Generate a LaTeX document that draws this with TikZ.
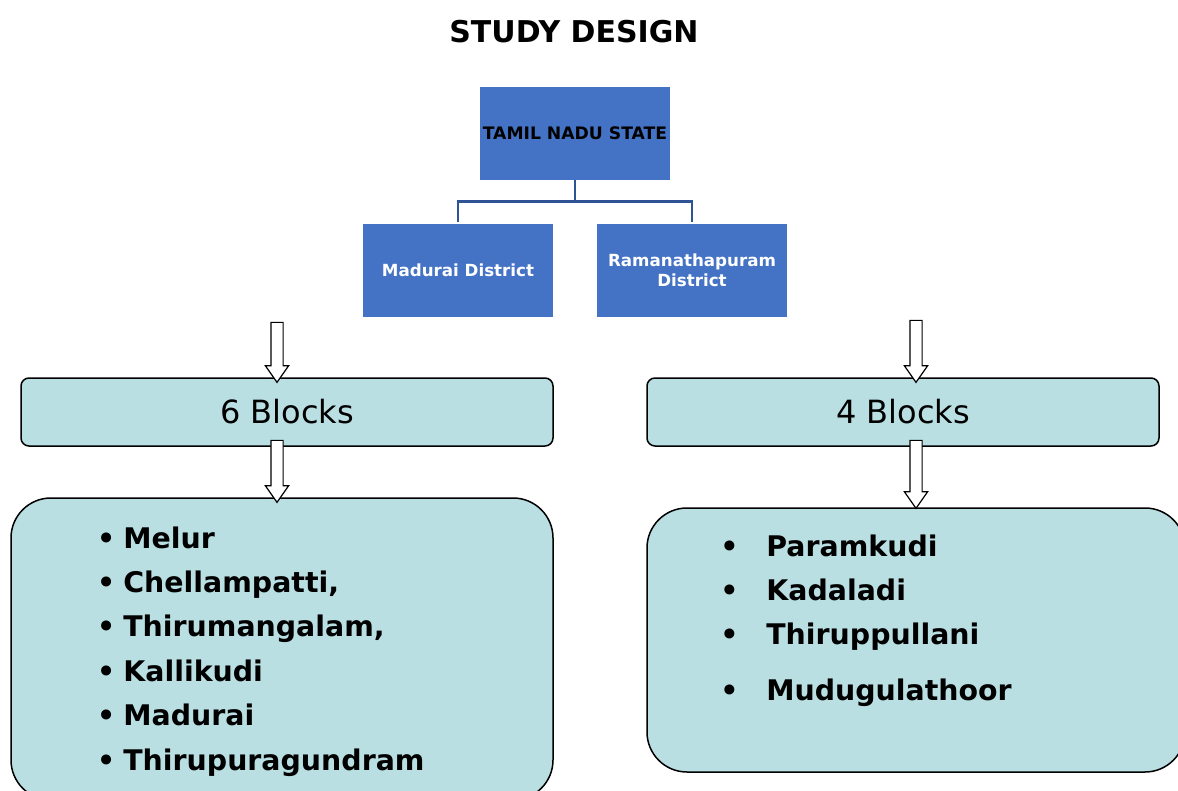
\documentclass[tikz,border=0pt]{standalone}
\usepackage{fontspec}
\setmainfont{DejaVu Sans}
\usepackage{tikz}
\usetikzlibrary{shapes.arrows}
\definecolor{boxblue}{RGB}{68,114,196}
\definecolor{linkblue}{RGB}{47,84,150}
\definecolor{paleteal}{RGB}{185,223,227}

\begin{document}
\begin{tikzpicture}[x=0.5pt, y=-0.5pt]
    \useasboundingbox (0,0) rectangle (1178,791);
    \tikzstyle{BlueBox}=[fill=boxblue, minimum width=95pt, minimum height=46.5pt, inner sep=0pt, align=center, font=\bfseries\fontsize{8.35}{10}\selectfont]
    \tikzstyle{BlockBox}=[draw=black, line width=0.75pt, fill=paleteal, rounded corners=4pt, minimum height=34pt, font=\fontsize{16}{19}\selectfont]
    \tikzstyle{ListBox}=[draw=black, line width=0.75pt, fill=paleteal, rounded corners=20pt]
    \tikzstyle{ItemStyle}=[anchor=base west, inner sep=0pt, font=\bfseries\fontsize{14.2}{17}\selectfont]
    \tikzstyle{HollowArrow}=[draw=black, line width=0.6pt, fill=white, single arrow, rotate=-90, inner xsep=0pt, inner ysep=2.75pt, single arrow head extend=2.75pt, single arrow tip angle=70]
    \node[font=\bfseries\fontsize{15}{18}\selectfont] (title) at (574,32) {STUDY DESIGN};
    \node[BlueBox, font=\bfseries\fontsize{8.6}{10}\selectfont] (state) at (575,133.5) {TAMIL NADU STATE};
    \node[BlueBox, text=white] (madurai) at (458,270.5) {Madurai District};
    \node[BlueBox, text=white] (ramnad) at (692,270.5) {Ramanathapuram\\District};
    \draw[linkblue, line width=1.2pt] (state.south) -- ++(0,21) coordinate (fork);
    \draw[linkblue, line width=1.2pt] (fork) -| ([yshift=1pt]madurai.north);
    \draw[linkblue, line width=1.2pt] (fork) -| ([yshift=1pt]ramnad.north);
    \node[BlockBox, minimum width=266pt] (six) at (287,412) {6 Blocks};
    \node[BlockBox, minimum width=256pt] (four) at (903,412) {4 Blocks};
    \node[ListBox, minimum width=271pt, minimum height=151pt] (leftlist) at (282,649) {};
    \node[ListBox, minimum width=269pt, minimum height=132pt] (rightlist) at (916,640) {};
    \node[HollowArrow, minimum height=30pt] (downA) at (277,348) {};
    \node[HollowArrow, minimum height=31pt] (downB) at (277,467) {};
    \node[HollowArrow, minimum height=31pt] (downC) at (916,347) {};
    \node[HollowArrow, minimum height=34pt] (downD) at (916,470) {};
    \foreach \name [count=\i from 0] in {Melur,{Chellampatti,},{Thirumangalam,},Kallikudi,Madurai,Thirupuragundram}
        \node[ItemStyle] (melur\i) at (123,{548+44.4*\i}) {\llap{\textbullet\hspace{4pt}}\name};
    \foreach \y/\name [count=\i] in {556/Paramkudi,600/Kadaladi,644/Thiruppullani,700/Mudugulathoor}
        \node[ItemStyle] (param\i) at (766,\y) {\llap{\textbullet\hspace{14pt}}\name};
\end{tikzpicture}
\end{document}
